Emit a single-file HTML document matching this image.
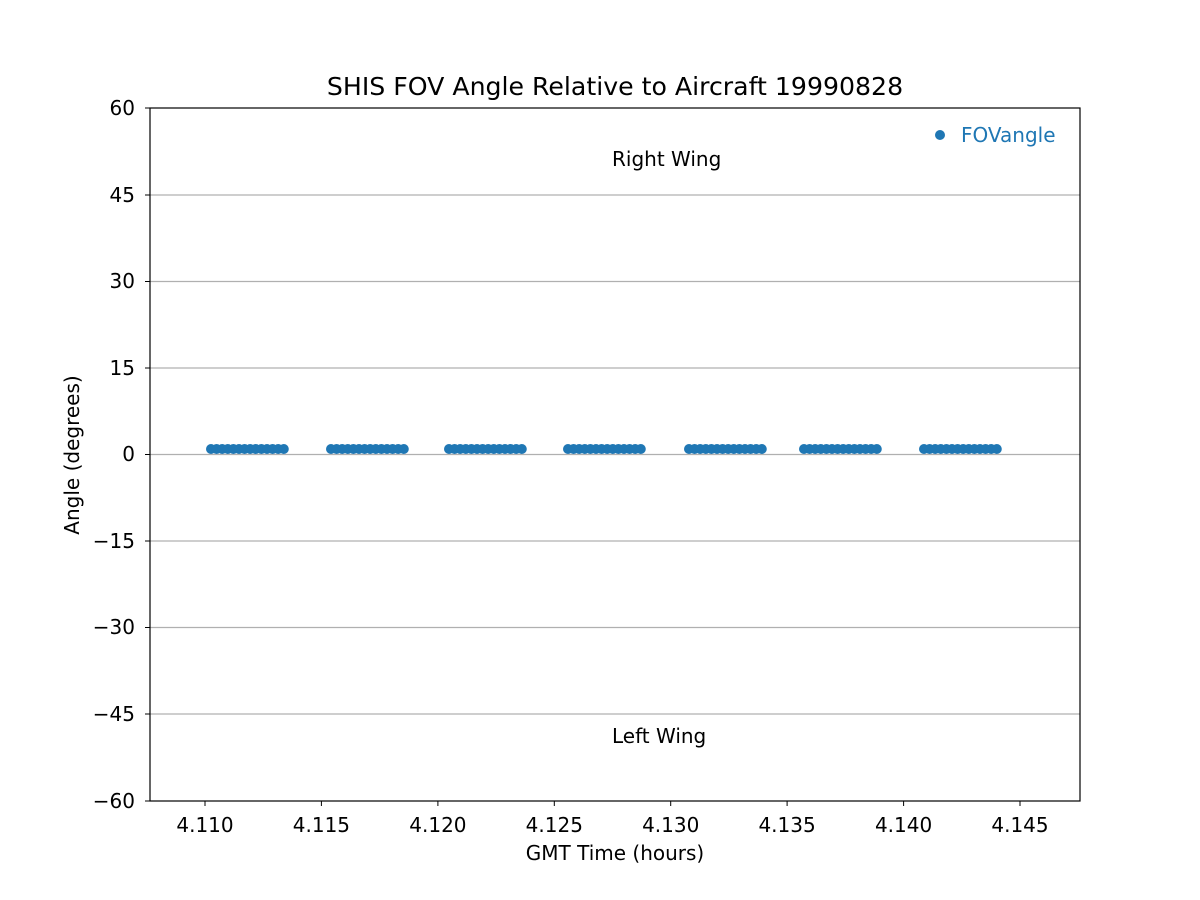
<!DOCTYPE html>
<html><head><meta charset="utf-8"><style>body{margin:0;background:#fff}svg{display:block}text{font-family:"DejaVu Sans","Liberation Sans",sans-serif}</style></head>
<body>
<svg id="s" width="1200" height="900" xmlns="http://www.w3.org/2000/svg">
<rect width="1200" height="900" fill="#fff"/>
<g stroke="#b0b0b0" stroke-width="1.2">
<line x1="150" x2="1080" y1="195" y2="195"/><line x1="150" x2="1080" y1="281.5" y2="281.5"/>
<line x1="150" x2="1080" y1="368" y2="368"/><line x1="150" x2="1080" y1="454.5" y2="454.5"/>
<line x1="150" x2="1080" y1="541" y2="541"/><line x1="150" x2="1080" y1="627.5" y2="627.5"/>
<line x1="150" x2="1080" y1="714" y2="714"/>
</g>
<g id="pts" fill="#1f77b4"></g>
<rect x="150" y="108" width="930" height="693" fill="none" stroke="#000" stroke-width="1.2"/>
<g stroke="#000" stroke-width="1">
<line x1="145" x2="150" y1="108" y2="108"/><line x1="145" x2="150" y1="195" y2="195"/><line x1="145" x2="150" y1="281.5" y2="281.5"/><line x1="145" x2="150" y1="368" y2="368"/><line x1="145" x2="150" y1="454.5" y2="454.5"/><line x1="145" x2="150" y1="541" y2="541"/><line x1="145" x2="150" y1="627.5" y2="627.5"/><line x1="145" x2="150" y1="714" y2="714"/><line x1="145" x2="150" y1="801" y2="801"/>
<line x1="205" x2="205" y1="801" y2="806"/><line x1="321.4" x2="321.4" y1="801" y2="806"/><line x1="437.9" x2="437.9" y1="801" y2="806"/><line x1="554.3" x2="554.3" y1="801" y2="806"/><line x1="670.7" x2="670.7" y1="801" y2="806"/><line x1="787.1" x2="787.1" y1="801" y2="806"/><line x1="903.6" x2="903.6" y1="801" y2="806"/><line x1="1020" x2="1020" y1="801" y2="806"/>
</g>
<g font-size="20" text-anchor="end">
<text x="135" y="115">60</text><text x="135" y="202">45</text><text x="135" y="288">30</text><text x="135" y="375">15</text><text x="135" y="461">0</text><text x="135" y="548">−15</text><text x="135" y="634">−30</text><text x="135" y="721">−45</text><text x="135" y="808">−60</text>
</g>
<g font-size="20" text-anchor="middle">
<text x="205" y="832">4.110</text><text x="321.4" y="832">4.115</text><text x="437.9" y="832">4.120</text><text x="554.3" y="832">4.125</text><text x="670.7" y="832">4.130</text><text x="787.1" y="832">4.135</text><text x="903.6" y="832">4.140</text><text x="1020" y="832">4.145</text>
<text x="615" y="860">GMT Time (hours)</text>
<text x="615" y="95" font-size="25.2">SHIS FOV Angle Relative to Aircraft 19990828</text>
</g>
<text x="79" y="455" font-size="20" text-anchor="middle" transform="rotate(-90 79 455)">Angle (degrees)</text>
<text x="612" y="166" font-size="20">Right Wing</text>
<text x="612" y="743" font-size="20">Left Wing</text>
<circle cx="940" cy="135" r="5" fill="#1f77b4"/>
<text x="961" y="142" font-size="20" fill="#1f77b4">FOVangle</text>
</svg>
<script>
var g=document.getElementById('pts'),s=[211,331,449,568,689,804,924],h='';
s.forEach(function(a){for(var i=0;i<14;i++){h+='<circle cx="'+(a+i*5.6).toFixed(1)+'" cy="449" r="5"/>';}});
g.innerHTML=h;
</script>
</body></html>
